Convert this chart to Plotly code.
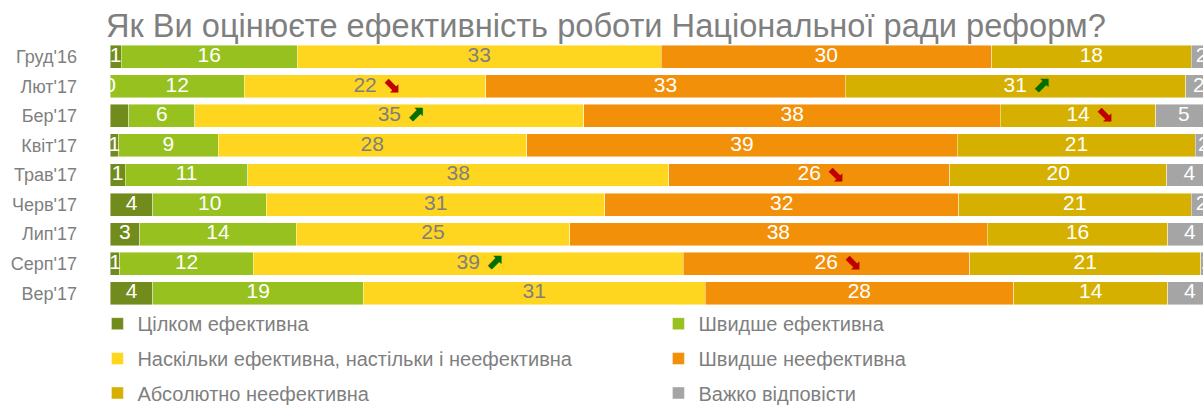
import numpy as np
import plotly.graph_objects as go

# ---------------- data ----------------
categories = ["Груд'16", "Лют'17", "Бер'17", "Квіт'17", "Трав'17",
              "Черв'17", "Лип'17", "Серп'17", "Вер'17"]

series_names = ["Цілком ефективна",
                "Швидше ефективна",
                "Наскільки ефективна, настільки і неефективна",
                "Швидше неефективна",
                "Абсолютно неефективна",
                "Важко відповісти"]

# bar widths (% of respondents)
tsilkom_ef   = [1.0, 0.0, 1.7, 0.8, 1.4, 3.9, 2.7, 0.9, 3.9]
shvydshe_ef  = [16.0, 12.2, 6.0, 9.0, 11.1, 10.3, 14.2, 12.1, 19.1]
naskilky     = [33.0, 21.9, 35.3, 28.0, 38.2, 30.7, 24.8, 39.0, 31.0]
shvydshe_nef = [30.0, 32.6, 37.8, 39.1, 25.5, 32.1, 37.9, 26.0, 28.0]
absolutno    = [18.1, 30.9, 14.1, 21.6, 19.7, 21.1, 16.4, 21.0, 14.0]
vazhko       = [1.9, 2.4, 5.1, 1.5, 4.1, 1.9, 4.0, 1.0, 4.0]

# printed labels
lab_tsilkom_ef   = ["1", "0", "", "1", "1", "4", "3", "1", "4"]
lab_shvydshe_ef  = ["16", "12", "6", "9", "11", "10", "14", "12", "19"]
lab_naskilky     = ["33", "22", "35", "28", "38", "31", "25", "39", "31"]
lab_shvydshe_nef = ["30", "33", "38", "39", "26", "32", "38", "26", "28"]
lab_absolutno    = ["18", "31", "14", "21", "20", "21", "16", "21", "14"]
lab_vazhko       = ["2", "2", "5", "2", "4", "2", "4", "1", "4"]

# significant change markers: (category, series index, direction)
trend_cats   = ["Лют'17", "Лют'17", "Бер'17", "Бер'17", "Трав'17", "Серп'17", "Серп'17"]
trend_series = [2, 4, 2, 4, 3, 2, 3]
trend_dirs   = ["down", "up", "up", "down", "down", "up", "down"]

# ---------------- style ----------------
series_values = [tsilkom_ef, shvydshe_ef, naskilky, shvydshe_nef, absolutno, vazhko]
series_labels = [lab_tsilkom_ef, lab_shvydshe_ef, lab_naskilky,
                 lab_shvydshe_nef, lab_absolutno, lab_vazhko]
colors = ["#718B1C", "#97C11F", "#FFD61F", "#F2900A", "#D5B000", "#A5A5A5"]
label_colors = ["white", "white", "#7F7F7F", "white", "white", "white"]
legend_ids = ["legend", "legend", "legend2", "legend2", "legend3", "legend3"]
GREY = "#7F7F7F"
FONT = "Liberation Sans, Arial, sans-serif"

W, H = 1203, 405
ML, MR, MT, MB = 110, 0, 41.5, 96.7
PX_PER_UNIT = 11.02
XMAX = (W - ML - MR) / PX_PER_UNIT
ARROW_OFFSET = 26 / PX_PER_UNIT

fig = go.Figure()

vals = np.array(series_values, dtype=float)
starts = np.vstack([np.zeros(len(categories)), np.cumsum(vals, axis=0)[:-1]])
mids = starts + vals / 2

for i, name in enumerate(series_names):
    fig.add_trace(go.Bar(
        y=categories, x=series_values[i], orientation="h", name=name,
        marker=dict(color=colors[i], line=dict(color="rgba(255,255,255,0.55)", width=0.8)),
        legend=legend_ids[i], hoverinfo="skip", textposition="none",
    ))

for i, name in enumerate(series_names):
    fig.add_trace(go.Scatter(
        y=categories, x=mids[i], mode="text", text=series_labels[i],
        textposition="middle center", cliponaxis=True,
        textfont=dict(family=FONT, size=21, color=label_colors[i]),
        showlegend=False, hoverinfo="skip",
    ))

# trend arrows
cat_index = {c: k for k, c in enumerate(categories)}
ax_x = [mids[s][cat_index[c]] + ARROW_OFFSET for c, s in zip(trend_cats, trend_series)]
arrow_text = ["<b>⬊</b>" if d == "down" else "<b>⬈</b>" for d in trend_dirs]
arrow_col = ["#C00000" if d == "down" else "#006E00" for d in trend_dirs]
fig.add_trace(go.Scatter(
    y=trend_cats, x=ax_x, mode="text", text=arrow_text,
    textposition="middle center", cliponaxis=True,
    textfont=dict(family="DejaVu Sans", size=22, color=arrow_col),
    showlegend=False, hoverinfo="skip",
))

plot_h = H - MT - MB
def legend_y(center_px):
    return 1 - (center_px - MT) / plot_h

leg_common = dict(
    orientation="h", x=-0.0115, xanchor="left", yanchor="middle",
    entrywidth=516, entrywidthmode="pixels",
    font=dict(family=FONT, size=20, color=GREY),
    bgcolor="rgba(0,0,0,0)", traceorder="normal",
    itemclick=False, itemdoubleclick=False,
)

fig.update_layout(
    width=W, height=H,
    margin=dict(l=ML, r=MR, t=MT, b=MB, pad=0, autoexpand=False),
    paper_bgcolor="white", plot_bgcolor="white",
    barmode="stack", bargap=0.224,
    font=dict(family=FONT, color=GREY),
    title=dict(
        text="Як Ви оцінюєте ефективність роботи Національної ради реформ?",
        font=dict(family=FONT, size=32.6, color=GREY),
        x=106 / W, xref="container", xanchor="left",
        y=1 - 26 / H, yref="container", yanchor="middle",
    ),
    xaxis=dict(range=[0, XMAX], visible=False, showgrid=False, zeroline=False),
    yaxis=dict(range=[len(categories) - 0.5, -0.5], type="category",
               showgrid=False, zeroline=False, showline=False, ticks="",
               ticklabelstandoff=32,
               tickfont=dict(family=FONT, size=18, color=GREY)),
    legend=dict(y=legend_y(324), **leg_common),
    legend2=dict(y=legend_y(359), **leg_common),
    legend3=dict(y=legend_y(393.5), **leg_common),
    showlegend=True,
)

fig.write_html(
    "out.html",
    config={"displayModeBar": False, "staticPlot": False},
    post_script="document.body.style.margin='0';document.body.style.overflow='hidden';",
)
